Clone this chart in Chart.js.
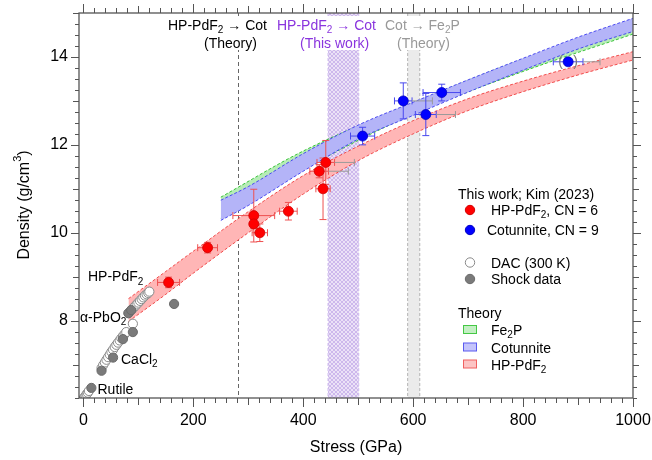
<!DOCTYPE html>
<html>
<head>
<meta charset="utf-8">
<title>Density vs stress</title>
<script src="https://cdn.jsdelivr.net/npm/chart.js@4.4.1/dist/chart.umd.min.js"></script>
<style>
  html, body { margin: 0; padding: 0; background: #fff; }
  canvas { display: block; }
</style>
</head>
<body>
<canvas id="densityChart" width="652" height="460"></canvas>
<script>
const FONT = "'Liberation Sans', Arial, sans-serif";

// axis ticks
const xTicks = [0, 200, 400, 600, 800, 1000];
const yTicks = [8, 10, 12, 14];

// theory bands (lower / upper edge)
const hpBandStress = [82, 150, 200, 300, 400, 500, 600, 700, 800, 900, 1000];
const hpBandLow    = [7.98, 8.60, 9.08, 10.00, 10.88, 11.64, 12.25, 12.78, 13.21, 13.59, 13.93];
const hpBandHigh   = [8.50, 9.12, 9.58, 10.48, 11.30, 11.97, 12.55, 13.05, 13.45, 13.80, 14.12];

const cotBandStress = [250, 300, 400, 500, 600, 700, 800, 900, 1000];
const cotBandLow    = [10.28, 10.62, 11.40, 12.13, 12.67, 13.20, 13.70, 14.18, 14.58];
const cotBandHigh   = [10.74, 11.05, 11.80, 12.45, 12.97, 13.48, 13.97, 14.45, 14.88];

const fe2pBandStress = [250, 400, 600, 800, 1000];
const fe2pBandLow    = [10.33, 11.44, 12.70, 13.67, 14.52];
const fe2pBandHigh   = [10.81, 11.86, 12.95, 13.95, 14.78];

// This work; Kim (2023) - HP-PdF2, CN = 6
const hpStress      = [155, 226, 310, 310, 321, 373, 429, 441, 436];
const hpDensity     = [8.87, 9.66, 10.39, 10.20, 10.00, 10.49, 11.40, 11.60, 11.00];
const hpStressErr   = [20, 18, 38, 0, 14, 16, 17, 16, 13];
const hpDensityErr  = [0.12, 0.12, 0.60, 0.10, 0.20, 0.20, 0.15, 0.50, 0.70];
const hpStressExt   = [null, null, null, null, null, null, 482, 493, null];

// This work; Kim (2023) - Cotunnite, CN = 9
const cotStress     = [508, 582, 623, 652, 882];
const cotDensity    = [12.20, 13.00, 12.69, 13.19, 13.89];
const cotStressErr  = [22, 16, 19, 34, 27];
const cotDensityErr = [0.20, 0.41, 0.48, 0.19, 0];
const cotStressExt  = [null, 635, 677, null, 940];

// DAC (300 K)
const dacStress  = [0, 2, 4, 6, 8, 10,
  33, 36, 39, 42, 45, 48, 51, 54, 57, 60, 63, 66, 69, 72, 75, 78, 90,
  82, 85, 88, 91, 94, 97, 100, 103, 106, 109, 112, 115, 118, 120];
const dacDensity = [6.22, 6.26, 6.29, 6.33, 6.36, 6.40,
  6.92, 6.99, 7.05, 7.11, 7.17, 7.23, 7.29, 7.34, 7.40, 7.45, 7.50, 7.55, 7.60, 7.65, 7.69, 7.74, 7.93,
  8.17, 8.21, 8.25, 8.29, 8.33, 8.37, 8.41, 8.45, 8.49, 8.53, 8.57, 8.60, 8.63, 8.66];

// shock data
const shockStress  = [14.5, 33, 54, 72, 90, 165, 82, 87];
const shockDensity = [6.47, 6.86, 7.16, 7.58, 7.74, 8.38, 8.17, 8.24];

// transitions
const theoryTransition = 281;
const thisWorkTransition = [445, 501];
const cotFe2pTransition = [590, 612];

const pts = (xs, ys) => xs.map((v, i) => ({ x: v, y: ys[i] }));

function edge(xs, ys, color, order, fill, bg) {
  return {
    data: pts(xs, ys), showLine: true, pointRadius: 0,
    borderColor: color, borderWidth: 1, borderDash: [3, 2],
    cubicInterpolationMode: 'monotone',
    fill: fill, backgroundColor: bg || 'transparent', order: order
  };
}

const datasets = [
  edge(hpBandStress, hpBandLow, 'rgba(240,60,60,0.9)', 30, false),
  edge(hpBandStress, hpBandHigh, 'rgba(240,60,60,0.9)', 30, '-1', '#ffb6b6'),
  edge(fe2pBandStress, fe2pBandLow, 'rgba(40,190,40,0.9)', 20, false),
  edge(fe2pBandStress, fe2pBandHigh, 'rgba(40,190,40,0.9)', 20, '-1', '#b6ecb6'),
  edge(cotBandStress, cotBandLow, 'rgba(60,60,240,0.9)', 10, false),
  edge(cotBandStress, cotBandHigh, 'rgba(60,60,240,0.9)', 10, '-1', '#b4b4f8'),
  { data: pts(dacStress, dacDensity), pointRadius: 4.6, pointBackgroundColor: '#fff',
    pointBorderColor: '#8a8a8a', pointBorderWidth: 1, order: 4 },
  { data: pts(shockStress, shockDensity), pointRadius: 4.6, pointBackgroundColor: '#7a7a7a',
    pointBorderColor: '#6a6a6a', pointBorderWidth: 1, order: 3 },
  { data: pts(hpStress, hpDensity), pointRadius: 5, pointBackgroundColor: '#ff0000',
    pointBorderColor: '#d00000', pointBorderWidth: 0.8, order: 1 },
  { data: pts(cotStress, cotDensity), pointRadius: 5, pointBackgroundColor: '#0000ff',
    pointBorderColor: '#0000c0', pointBorderWidth: 0.8, order: 0 }
];
const RED_IDX = 8, BLUE_IDX = 9;

// text with _x subscript and ^x superscript
function drawRich(ctx, str, x, y, size, color, align) {
  const parts = [];
  let buf = '';
  for (let i = 0; i < str.length; i++) {
    const c = str[i];
    if ((c === '_' || c === '^') && i + 1 < str.length) {
      if (buf) parts.push({ t: buf, k: 0 });
      buf = '';
      parts.push({ t: str[i + 1], k: c === '_' ? 1 : -1 });
      i++;
    } else buf += c;
  }
  if (buf) parts.push({ t: buf, k: 0 });
  const small = Math.round(size * 0.7);
  let w = 0;
  parts.forEach(p => {
    ctx.font = (p.k ? small : size) + 'px ' + FONT;
    p.w = ctx.measureText(p.t).width;
    w += p.w;
  });
  let cx = align === 'center' ? x - w / 2 : align === 'right' ? x - w : x;
  ctx.fillStyle = color;
  ctx.textAlign = 'left';
  ctx.textBaseline = 'alphabetic';
  parts.forEach(p => {
    ctx.font = (p.k ? small : size) + 'px ' + FONT;
    const dy = p.k === 1 ? size * 0.25 : p.k === -1 ? -size * 0.45 : 0;
    ctx.fillText(p.t, cx, y + dy);
    cx += p.w;
  });
  return w;
}

function drawErrorBars(ctx, x, y, xs, ys, xe, ye, ext, color) {
  const cap = 3.5;
  ctx.save();
  ctx.lineWidth = 1;
  xs.forEach((sx, i) => {
    const px = x.getPixelForValue(sx), py = y.getPixelForValue(ys[i]);
    let r = px;
    ctx.strokeStyle = color;
    ctx.beginPath();
    if (xe[i]) {
      const l = x.getPixelForValue(sx - xe[i]);
      r = x.getPixelForValue(sx + xe[i]);
      ctx.moveTo(l, py); ctx.lineTo(r, py);
      ctx.moveTo(l, py - cap); ctx.lineTo(l, py + cap);
      ctx.moveTo(r, py - cap); ctx.lineTo(r, py + cap);
    }
    if (ye[i]) {
      const t = y.getPixelForValue(ys[i] + ye[i]), b = y.getPixelForValue(ys[i] - ye[i]);
      ctx.moveTo(px, t); ctx.lineTo(px, b);
      ctx.moveTo(px - cap, t); ctx.lineTo(px + cap, t);
      ctx.moveTo(px - cap, b); ctx.lineTo(px + cap, b);
    }
    ctx.stroke();
    if (ext[i]) {
      const e = x.getPixelForValue(ext[i]);
      ctx.strokeStyle = '#9a9a9a';
      ctx.beginPath();
      ctx.moveTo(r, py); ctx.lineTo(e, py);
      ctx.moveTo(e, py - cap); ctx.lineTo(e, py + cap);
      ctx.stroke();
    }
  });
  ctx.restore();
}

function hatchPattern(ctx) {
  const c = document.createElement('canvas');
  c.width = c.height = 4;
  const g = c.getContext('2d');
  g.fillStyle = '#ebe2f7';
  g.fillRect(0, 0, 4, 4);
  g.fillStyle = '#cdb8ec';
  for (let i = 0; i < 4; i++) { g.fillRect(i, i, 1, 1); g.fillRect(3 - i, i, 1, 1); }
  return ctx.createPattern(c, 'repeat');
}

const figurePlugin = {
  id: 'figure',
  beforeDatasetsDraw(chart) {
    const { ctx, chartArea: a, scales: { x } } = chart;
    ctx.save();
    // this work transition
    let l = x.getPixelForValue(thisWorkTransition[0]), r = x.getPixelForValue(thisWorkTransition[1]);
    ctx.fillStyle = hatchPattern(ctx);
    ctx.fillRect(l, a.top, r - l, a.bottom - a.top);
    ctx.setLineDash([3, 2]);
    ctx.strokeStyle = '#d2c0ef';
    ctx.beginPath();
    ctx.moveTo(l, a.top); ctx.lineTo(l, a.bottom);
    ctx.moveTo(r, a.top); ctx.lineTo(r, a.bottom);
    ctx.stroke();
    // Cot -> Fe2P (theory)
    l = x.getPixelForValue(cotFe2pTransition[0]);
    r = x.getPixelForValue(cotFe2pTransition[1]);
    ctx.fillStyle = '#ebebeb';
    ctx.fillRect(l, a.top, r - l, a.bottom - a.top);
    ctx.strokeStyle = '#b4b4b4';
    ctx.beginPath();
    ctx.moveTo(l, a.top); ctx.lineTo(l, a.bottom);
    ctx.moveTo(r, a.top); ctx.lineTo(r, a.bottom);
    ctx.stroke();
    // HP-PdF2 -> Cot (theory)
    const t = Math.round(x.getPixelForValue(theoryTransition)) + 0.5;
    ctx.setLineDash([4, 3]);
    ctx.strokeStyle = '#666';
    ctx.beginPath();
    ctx.moveTo(t, a.top); ctx.lineTo(t, a.bottom);
    ctx.stroke();
    ctx.restore();
  },
  beforeDatasetDraw(chart, args) {
    const { ctx, scales: { x, y } } = chart;
    if (args.index === RED_IDX)
      drawErrorBars(ctx, x, y, hpStress, hpDensity, hpStressErr, hpDensityErr, hpStressExt, '#ee5050');
    if (args.index === BLUE_IDX)
      drawErrorBars(ctx, x, y, cotStress, cotDensity, cotStressErr, cotDensityErr, cotStressExt, '#4848ee');
  },
  afterDatasetsDraw(chart) {
    const { ctx, chartArea: a, scales: { x, y } } = chart;
    ctx.save();
    // white boxes behind the transition labels
    ctx.fillStyle = '#fff';
    ctx.fillRect(166, a.top + 3, 301, 50 - a.top - 3);
    drawRich(ctx, 'HP-PdF_2 \u2192 Cot', 168, 29.5, 14, '#000', 'left');
    drawRich(ctx, '(Theory)', 204, 48, 14, '#000', 'left');
    drawRich(ctx, 'HP-PdF_2 \u2192 Cot', 277, 29.5, 14, '#8a35de', 'left');
    drawRich(ctx, '(This work)', 300, 48, 14, '#8a35de', 'left');
    drawRich(ctx, 'Cot \u2192 Fe_2P', 385, 29.5, 14, '#999', 'left');
    drawRich(ctx, '(Theory)', 397, 48, 14, '#999', 'left');

    // phase labels of the low-pressure data
    drawRich(ctx, 'HP-PdF_2', 88, 281, 14, '#000', 'left');
    drawRich(ctx, '\u03b1-PbO_2', 80, 321.5, 14, '#000', 'left');
    drawRich(ctx, 'CaCl_2', 121, 363.5, 14, '#000', 'left');
    drawRich(ctx, 'Rutile', 97.5, 394, 14, '#000', 'left');

    // parentheses around the last cotunnite point
    const last = cotStress.length - 1;
    const px = x.getPixelForValue(cotStress[last]), py = y.getPixelForValue(cotDensity[last]);
    ctx.font = '14px ' + FONT;
    ctx.fillStyle = '#777';
    ctx.textAlign = 'center';
    ctx.textBaseline = 'middle';
    ctx.fillText('(', px - 7.5, py);
    ctx.fillText(')', px + 7.5, py);
    ctx.restore();
  },
  afterDraw(chart) {
    const { ctx, chartArea: a, scales: { x, y } } = chart;
    ctx.save();
    // ticks on all four sides
    ctx.strokeStyle = '#555';
    ctx.lineWidth = 1;
    ctx.beginPath();
    for (let v = 0; v <= 1000; v += 20) {
      const px = Math.round(x.getPixelForValue(v)) + 0.5;
      const len = v % 200 === 0 ? 9 : v % 100 === 0 ? 7 : 5;
      ctx.moveTo(px, a.bottom); ctx.lineTo(px, a.bottom + len);
      ctx.moveTo(px, a.top); ctx.lineTo(px, a.top - len);
    }
    for (let k = 25; k <= 60; k++) {
      const py = Math.round(y.getPixelForValue(k / 4)) + 0.5;
      const len = k % 8 === 0 ? 8 : k % 4 === 0 ? 6 : 4;
      ctx.moveTo(a.left, py); ctx.lineTo(a.left - len, py);
      ctx.moveTo(a.right, py); ctx.lineTo(a.right + len, py);
    }
    ctx.stroke();
    ctx.lineWidth = 1.3;
    ctx.strokeRect(a.left, a.top, a.right - a.left, a.bottom - a.top);

    // axis titles
    drawRich(ctx, 'Stress (GPa)', (a.left + a.right) / 2, 452, 16, '#000', 'center');
    ctx.save();
    ctx.translate(28.5, 205);
    ctx.rotate(-Math.PI / 2);
    drawRich(ctx, 'Density (g/cm^3)', 0, 0, 16, '#000', 'center');
    ctx.restore();

    // legend
    const dot = (cx, cy, fill, stroke) => {
      ctx.beginPath();
      ctx.arc(cx, cy, 4.7, 0, Math.PI * 2);
      ctx.fillStyle = fill;
      ctx.fill();
      ctx.strokeStyle = stroke;
      ctx.lineWidth = 1;
      ctx.stroke();
    };
    const box = (cy, fill, stroke) => {
      ctx.fillStyle = fill;
      ctx.fillRect(463.5, cy - 4, 13, 8);
      ctx.strokeStyle = stroke;
      ctx.lineWidth = 1;
      ctx.strokeRect(463.5, cy - 4, 13, 8);
    };
    drawRich(ctx, 'This work; Kim (2023)', 458, 198.5, 14, '#000', 'left');
    dot(470, 210, '#ff0000', '#d00000');
    drawRich(ctx, 'HP-PdF_2, CN = 6', 491, 214.5, 14, '#000', 'left');
    dot(470, 230, '#0000ff', '#0000c0');
    drawRich(ctx, 'Cotunnite, CN = 9', 487, 234.5, 14, '#000', 'left');
    dot(470, 262.5, '#fff', '#8a8a8a');
    drawRich(ctx, 'DAC (300 K)', 491, 267.5, 14, '#000', 'left');
    dot(470, 279, '#7a7a7a', '#6a6a6a');
    drawRich(ctx, 'Shock data', 491, 284, 14, '#000', 'left');
    drawRich(ctx, 'Theory', 458, 317.5, 14, '#000', 'left');
    box(329.5, '#c3efc3', '#45c845');
    drawRich(ctx, 'Fe_2P', 491, 334.5, 14, '#000', 'left');
    box(347, '#c4c4fb', '#5a5af0');
    drawRich(ctx, 'Cotunnite', 491, 352.5, 14, '#000', 'left');
    box(364, '#fcc4c4', '#f06060');
    drawRich(ctx, 'HP-PdF_2', 491, 369.5, 14, '#000', 'left');
    ctx.restore();
  }
};

new Chart(document.getElementById('densityChart').getContext('2d'), {
  type: 'scatter',
  data: { datasets: datasets },
  options: {
    responsive: false,
    animation: false,
    events: [],
    layout: { padding: { top: 13, right: 19, left: 0, bottom: 0 } },
    plugins: { legend: { display: false }, tooltip: { enabled: false } },
    scales: {
      x: {
        type: 'linear', min: -8, max: 1000,
        border: { display: false },
        grid: { display: false, drawTicks: false },
        ticks: { color: '#000', font: { size: 16, family: FONT }, padding: 13,
                 maxRotation: 0, autoSkip: false, callback: v => String(v) },
        afterBuildTicks: s => { s.ticks = xTicks.map(v => ({ value: v })); },
        afterFit: s => { s.height = 62; s.paddingLeft = 0; s.paddingRight = 0; }
      },
      y: {
        type: 'linear', min: 6.24, max: 15,
        border: { display: false },
        grid: { display: false, drawTicks: false },
        ticks: { color: '#000', font: { size: 16, family: FONT }, padding: 11,
                 autoSkip: false, callback: v => String(v) },
        afterBuildTicks: s => { s.ticks = yTicks.map(v => ({ value: v })); },
        afterFit: s => { s.width = 79; s.paddingTop = 0; s.paddingBottom = 0; }
      }
    }
  },
  plugins: [figurePlugin]
});
</script>
</body>
</html>
